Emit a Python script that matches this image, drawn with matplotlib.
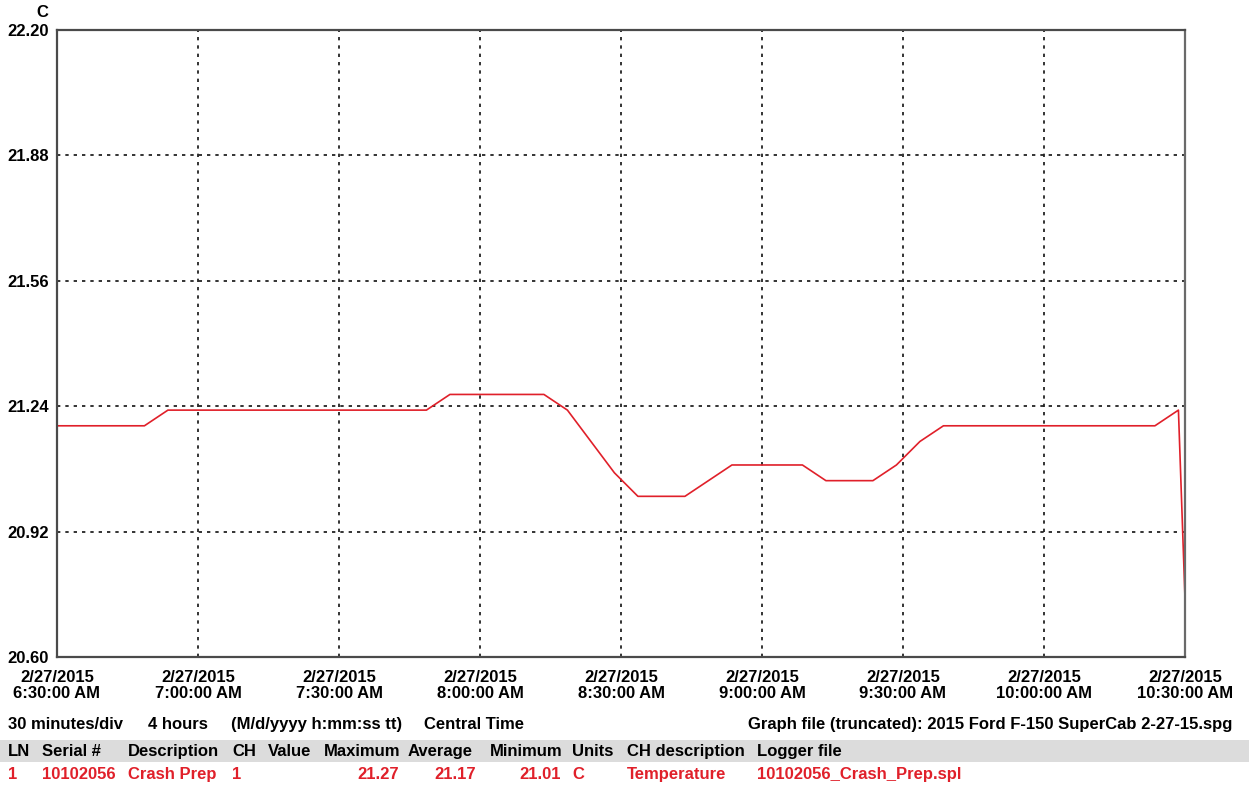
import matplotlib
matplotlib.use("Agg")
from matplotlib import pyplot as plt
from matplotlib.patches import Rectangle
import matplotlib.dates as mdates
import pandas as pd

# logger readings, 2/27/2015 (Central Time)
times = ["06:30:00", "06:48:36", "06:53:36", "07:48:36", "07:53:36", "08:13:36",
         "08:18:36", "08:28:36", "08:33:36", "08:43:36", "08:53:36", "09:08:36",
         "09:13:36", "09:23:36", "09:28:36", "09:33:36", "09:38:36", "10:23:36",
         "10:28:36", "10:30:00"]
temps = [21.19, 21.19, 21.23, 21.23, 21.27, 21.27, 21.23, 21.07, 21.01, 21.01,
         21.09, 21.09, 21.05, 21.05, 21.09, 21.15, 21.19, 21.19, 21.23, 20.75]

y_ticks = [20.60, 20.92, 21.24, 21.56, 21.88, 22.20]

header = ["LN", "Serial #", "Description", "CH", "Value", "Maximum", "Average",
          "Minimum", "Units", "CH description", "Logger file"]
row = ["1", "10102056", "Crash Prep", "1", "", "21.27", "21.17", "21.01", "C",
       "Temperature", "10102056_Crash_Prep.spl"]

stamps = pd.to_datetime(["2015-02-27 " + t for t in times])

plt.rcParams["font.family"] = ["Liberation Sans", "DejaVu Sans"]
plt.rcParams["font.weight"] = "bold"

W, H = 1249, 793
FS = 12
fig = plt.figure(figsize=(W / 100, H / 100), dpi=100)
ax = fig.add_axes([57 / W, 1 - 657 / H, (1185 - 57) / W, (657 - 30) / H])

RED = "#e0202a"
ax.plot(stamps, temps, color=RED, lw=1.2)

ax.set_ylim(20.60, 22.20)
ax.set_yticks(y_ticks)
ax.set_yticklabels(["%.2f" % v for v in y_ticks])
ax.set_xlim(pd.Timestamp("2015-02-27 06:30:00"), pd.Timestamp("2015-02-27 10:30:00"))
ax.xaxis.set_major_locator(mdates.MinuteLocator(byminute=[0, 30]))


def fmt_time(x, pos=None):
    d = mdates.num2date(x)
    h = d.hour % 12 or 12
    ampm = "AM" if d.hour < 12 else "PM"
    return "2/27/2015\n%d:%02d:00 %s" % (h, d.minute, ampm)


ax.xaxis.set_major_formatter(plt.FuncFormatter(fmt_time))
ax.tick_params(axis="both", length=0, labelsize=FS)
ax.tick_params(axis="y", pad=6)
ax.tick_params(axis="x", pad=9)
fig.canvas.draw()
for lab in ax.get_xticklabels():
    lab.set_linespacing(1.15)

ax.grid(True, color="#111111", linestyle=(0, (2, 3)), lw=1.2)
for s in ax.spines.values():
    s.set_color("#4a4a4a")
    s.set_linewidth(1.6)
ax.spines["right"].set_color("#6a6a6a")


def put(x, y, s, color="black", ha="left"):
    # y is the text baseline in pixels from the top
    fig.text(x / W, 1 - y / H, s, color=color, ha=ha, va="baseline",
             fontsize=FS, fontweight="bold")


put(42, 17, "C", ha="center")

# footer line
put(8, 729, "30 minutes/div")
put(148, 729, "4 hours")
put(231, 729, "(M/d/yyyy h:mm:ss tt)")
put(424, 729, "Central Time")
put(1232, 729, "Graph file (truncated): 2015 Ford F-150 SuperCab 2-27-15.spg", ha="right")

# channel table
fig.patches.append(Rectangle((0, 1 - 762 / H), 1, 22 / H, transform=fig.transFigure,
                             facecolor="#dcdcdc", edgecolor="none", zorder=0))
col_x = [8, 42, 128, 232, 268, 324, 408, 490, 572, 627, 757]
right_cols = {5: 399, 6: 476, 7: 561}
for i, (h, v) in enumerate(zip(header, row)):
    put(col_x[i], 756, h)
    if i in right_cols:
        put(right_cols[i], 779, v, color=RED, ha="right")
    else:
        put(col_x[i], 779, v, color=RED)

fig.savefig("out.png", dpi=100)
